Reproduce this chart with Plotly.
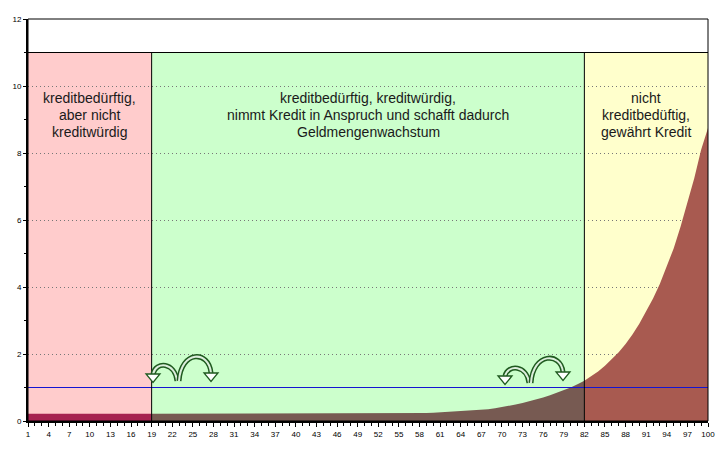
import plotly.graph_objects as go

# ---------------- data ----------------
periods = list(range(1, 101))
money = [
    0.22, 0.22, 0.22, 0.22, 0.22, 0.22, 0.22, 0.22, 0.22, 0.22,
    0.22, 0.22, 0.22, 0.22, 0.22, 0.22, 0.22, 0.22, 0.22, 0.22,
    0.22, 0.22, 0.22, 0.22, 0.22, 0.22, 0.22, 0.22, 0.22, 0.22,
    0.22, 0.22, 0.22, 0.22, 0.22, 0.22, 0.22, 0.22, 0.22, 0.22,
    0.22, 0.22, 0.22, 0.22, 0.22, 0.22, 0.22, 0.22, 0.22, 0.22,
    0.22, 0.22, 0.22, 0.22, 0.22, 0.22, 0.22, 0.23, 0.24, 0.25,
    0.26, 0.27, 0.28, 0.29, 0.30, 0.31, 0.33, 0.35, 0.38, 0.41,
    0.45, 0.49, 0.54, 0.59, 0.64, 0.70, 0.77, 0.84, 0.92, 1.00,
    1.10, 1.20, 1.33, 1.48, 1.65, 1.84, 2.05, 2.30, 2.58, 2.90,
    3.26, 3.66, 4.10, 4.60, 5.15, 5.80, 6.50, 7.25, 8.10, 8.75,
]
region_start = [1, 19, 82]
region_end = [19, 82, 100]
region_top = 11
region_bg = ["#FFCCCC", "#CCFFCC", "#FFFFCC"]
region_fill = ["#A62250", "#775A52", "#A85A50"]
region_text = [
    ["kreditbedürftig,", "aber nicht", "kreditwürdig"],
    ["kreditbedürftig, kreditwürdig,", "nimmt Kredit in Anspruch und schafft dadurch", "Geldmengenwachstum"],
    ["nicht", "kreditbedüftig,", "gewährt Kredit"],
]
threshold = 1.0
x_tick_values = list(range(1, 101, 3))
y_tick_values = [0, 2, 4, 6, 8, 10, 12]

# ---------------- layout geometry (page pixels) ----------------
PAGE_W, PAGE_H = 728, 450
BODY = 8                                  # default body margin of the html page
W, H = PAGE_W - BODY, PAGE_H - BODY       # figure size
PLOT_L, PLOT_R, PLOT_T, PLOT_B = 28, 708, 19, 421   # plot area in page pixels
ML, MR = PLOT_L - BODY, W - (PLOT_R - BODY)
MT, MB = PLOT_T - BODY, H - (PLOT_B - BODY)
X0, X1 = 1, 100
Y0, Y1 = 0, 12
TEXT_FIRST_PX = 97.5     # page pixel centre of first text line
TEXT_STEP_PX = 17.2      # line spacing in pixels


def px2data(px, py):
    return (X0 + (px - PLOT_L) / (PLOT_R - PLOT_L) * (X1 - X0),
            Y0 + (PLOT_B - py) / (PLOT_B - PLOT_T) * (Y1 - Y0))


def path(cmds):
    out = []
    for c in cmds:
        if isinstance(c, str):
            out.append(c)
        else:
            dx, dy = px2data(*c)
            out.append(f"{dx:.4f},{dy:.4f}")
    return " ".join(out)


fig = go.Figure()

shapes = []
# region backgrounds
for s, e, c in zip(region_start, region_end, region_bg):
    shapes.append(dict(type="rect", xref="x", yref="y", x0=s, x1=e, y0=0, y1=region_top,
                       fillcolor=c, line=dict(width=0), layer="below"))

# money area per region
for s, e, c in zip(region_start, region_end, region_fill):
    xs = periods[s - 1:e]
    ys = money[s - 1:e]
    fig.add_trace(go.Scatter(x=xs, y=ys, mode="lines", fill="tozeroy", fillcolor=c,
                             line=dict(width=0, color=c), hoverinfo="skip", showlegend=False))

# threshold line
fig.add_trace(go.Scatter(x=[X0, X1], y=[threshold, threshold], mode="lines",
                         line=dict(color="#1414D2", width=1.1), hoverinfo="skip",
                         showlegend=False))

# region separators and top line
for b in region_start[1:]:
    shapes.append(dict(type="line", xref="x", yref="y", x0=b, x1=b, y0=0, y1=region_top,
                       line=dict(color="black", width=1), layer="above"))
shapes.append(dict(type="line", xref="x", yref="y", x0=X0, x1=X1, y0=region_top, y1=region_top,
                   line=dict(color="black", width=1), layer="above"))
# frame
shapes.append(dict(type="rect", xref="paper", yref="paper", x0=0, x1=1, y0=0, y1=1,
                   line=dict(color="black", width=1), layer="above"))

# curved jump arrows (decoration)
dark = "#1F5A1F"
light = "#DDEEDD"
arrow_groups = [
    dict(l=[(177, 381), (175, 362), (156, 361), (153, 374)],
         r=[(179, 381), (181, 350), (209, 350), (211, 373)]),
    dict(l=[(529, 383), (527, 365), (508, 364), (505, 376)],
         r=[(531, 383), (533, 352), (561, 352), (563, 372)]),
]
for g in arrow_groups:
    for key in ("l", "r"):
        p0, c1, c2, p1 = g[key]
        d = path(["M", p0, "C", c1, c2, p1])
        shapes.append(dict(type="path", xref="x", yref="y", path=d,
                           line=dict(color=dark, width=5), layer="above"))
        shapes.append(dict(type="path", xref="x", yref="y", path=d,
                           line=dict(color=light, width=2), layer="above"))
        tx, ty = p1
        head = path(["M", (tx - 7, ty), "L", (tx + 7, ty), "L", (tx, ty + 8.5), "Z"])
        shapes.append(dict(type="path", xref="x", yref="y", path=head,
                           fillcolor="white", line=dict(color=dark, width=1.3), layer="above"))

annotations = []
for s, e, lines in zip(region_start, region_end, region_text):
    for i, t in enumerate(lines):
        _, yy = px2data(0, TEXT_FIRST_PX + i * TEXT_STEP_PX)
        annotations.append(dict(x=(s + e) / 2, y=yy, xref="x", yref="y", text=t,
                                showarrow=False, xanchor="center", yanchor="middle",
                                align="center",
                                font=dict(family="Liberation Sans, Arial, sans-serif", size=14,
                                          color="#1a1a1a")))

fig.update_layout(
    width=W, height=H,
    margin=dict(l=ML, r=MR, t=MT, b=MB, pad=0, autoexpand=False),
    paper_bgcolor="white", plot_bgcolor="white",
    shapes=shapes, annotations=annotations,
    showlegend=False,
    font=dict(family="Liberation Sans, Arial, sans-serif", size=8, color="black"),
    xaxis=dict(range=[X0, X1], tickvals=x_tick_values, ticktext=[str(v) for v in x_tick_values],
               ticks="outside", ticklen=4, tickcolor="black", showgrid=False, zeroline=False,
               showline=True, linecolor="black", linewidth=2, automargin=False,
               minor=dict(dtick=1, tick0=1, ticks="outside", ticklen=3, tickcolor="black"),
               tickfont=dict(size=8)),
    yaxis=dict(range=[Y0, Y1], tickvals=y_tick_values, ticks="outside", ticklen=3,
               tickcolor="black", showgrid=True, gridcolor="#777777", griddash="1px,3px",
               gridwidth=1, zeroline=False, showline=True, linecolor="black", linewidth=2,
               automargin=False,
               minor=dict(dtick=1, ticks="outside", ticklen=2, tickcolor="black", showgrid=False),
               tickfont=dict(size=8)),
)

fig.write_html("out.html")
